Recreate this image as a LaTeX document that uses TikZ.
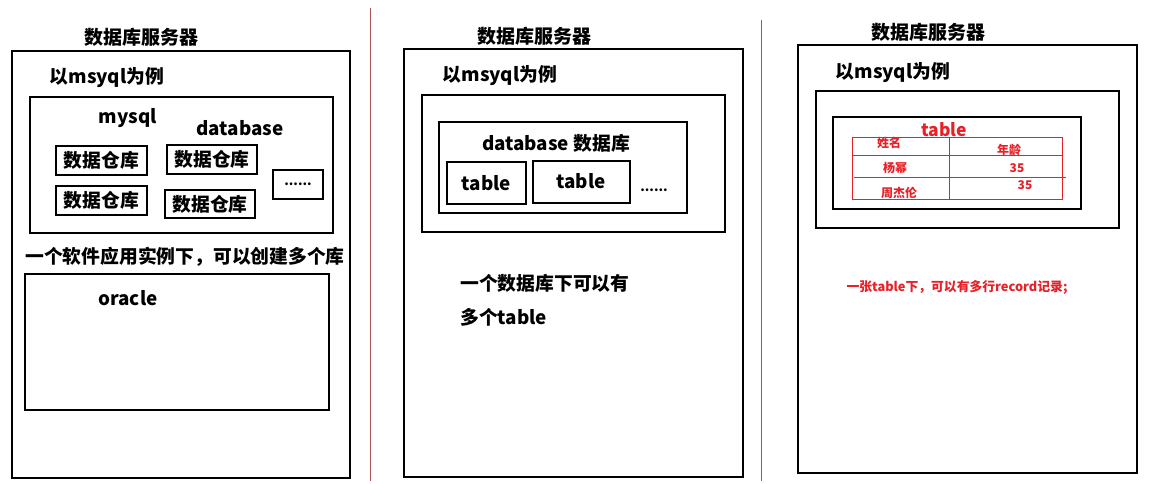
\documentclass[tikz,border=0pt]{standalone}
\usepackage{fontspec}
\setmainfont{Noto Sans CJK SC}
\definecolor{tabred}{RGB}{232,32,40}
\definecolor{seprule}{RGB}{170,80,85}
\begin{document}
\begin{tikzpicture}[x=1pt, y=-1pt,
    every node/.style={inner sep=0pt, font=\bfseries\fontsize{18.8}{21}\selectfont},
    title/.style={font=\bfseries\fontsize{19}{21}\selectfont},
    frame/.style={draw, line width=1.1pt},
    box/.style={draw, line width=1.1pt, inner sep=0pt},
    grid/.style={draw=tabred, line width=0.9pt},
    redtext/.style={text=tabred, font=\bfseries\fontsize{12}{14}\selectfont},
    seprule/.style={draw=seprule, line width=0.6pt}]
    \useasboundingbox (0, 0) rectangle (1149, 483);

    % separators
    \coordinate (sepa1) at (370, 8);
    \coordinate (sepa2) at (370, 481);
    \coordinate (sepb1) at (761, 20);
    \coordinate (sepb2) at (761, 481);
    \path [seprule] (sepa1) edge (sepa2);
    \path [seprule] (sepb1) edge (sepb2);

    % panel 1
    \begin{scope}
        \node [title] (srv1) at (141, 37) {数据库服务器};
        \draw [frame] (12, 51) rectangle (350, 478);
        \node (ex1) at (107, 78) {以msyql为例};
        \draw [frame] (30, 97) rectangle (333, 233);
        \node (mysql) at (128, 118) {mysql};
        \node (db1) at (240, 128) {database};
        \node [box, minimum width=91pt, minimum height=29pt] (wh1) at (101.5, 160.5) {数据仓库};
        \node [box, minimum width=90pt, minimum height=29pt] (wh2) at (212, 159.5) {数据仓库};
        \node [box, minimum width=91pt, minimum height=29pt] (wh3) at (101.5, 200.5) {数据仓库};
        \node [box, minimum width=90pt, minimum height=28pt] (wh4) at (210, 204) {数据仓库};
        \node [box, minimum width=50pt, minimum height=29pt, font=\bfseries\fontsize{13}{15}\selectfont] (more1) at (298, 184.5) {......};
        \node (note1) at (185, 257) {一个软件应用实例下，可以创建多个库};
        \draw [frame] (25, 274) rectangle (329, 410);
        \node (oracle) at (128, 298) {oracle};
    \end{scope}

    % panel 2
    \begin{scope}
        \node [title] (srv2) at (534, 36) {数据库服务器};
        \draw [frame] (404, 49) rectangle (743, 477);
        \node (ex2) at (500, 76) {以msyql为例};
        \draw [frame] (422, 95) rectangle (725, 232);
        \draw [frame] (439, 122) rectangle (687, 213);
        \node (db2) at (556, 143) {database 数据库};
        \node [box, minimum width=79pt, minimum height=42pt] (tb1) at (486.5, 183) {table};
        \node [box, minimum width=97pt, minimum height=42pt] (tb2) at (581.5, 182) {};
        \node at (581, 181) {table};
        \node [font=\bfseries\fontsize{13}{15}\selectfont] (more2) at (654, 190) {......};
        \node [anchor=west] (note2a) at (460, 283) {一个数据库下可以有};
        \node [anchor=west] (note2b) at (460, 317) {多个table};
    \end{scope}

    % panel 3
    \begin{scope}
        \node [title] (srv3) at (928, 32) {数据库服务器};
        \draw [frame] (798, 45) rectangle (1137, 473);
        \node (ex3) at (893, 73) {以msyql为例};
        \draw [frame] (816, 91) rectangle (1119, 228);
        \draw [frame] (833, 117) rectangle (1081, 209);
        \draw [grid] (852, 137) rectangle (1062, 199);
        \coordinate (colt) at (949, 137);
        \coordinate (colb) at (949, 199);
        \coordinate (rowa1) at (852, 155);
        \coordinate (rowa2) at (1063, 155);
        \coordinate (rowb1) at (854, 177);
        \coordinate (rowb2) at (1066, 177);
        \path [grid] (colt) edge (colb);
        \path [grid] (rowa1) edge (rowa2);
        \path [grid] (rowb1) edge (rowb2);
        \node [text=tabred, font=\bfseries\fontsize{17.5}{19}\selectfont] (tbl) at (944, 130) {table};
        \node [redtext] (name) at (889, 143) {姓名};
        \node [redtext] (age) at (1009, 150) {年龄};
        \node [redtext] (row1) at (895, 168) {杨幂};
        \node [redtext] (age1) at (1017, 168) {35};
        \node [redtext] (row2) at (899, 193) {周杰伦};
        \node [redtext] (age2) at (1025, 185) {35};
        \node [redtext, font=\bfseries\fontsize{12.8}{14}\selectfont] (note3) at (957, 287) {一张table下，可以有多行record记录;};
    \end{scope}
\end{tikzpicture}
\end{document}
